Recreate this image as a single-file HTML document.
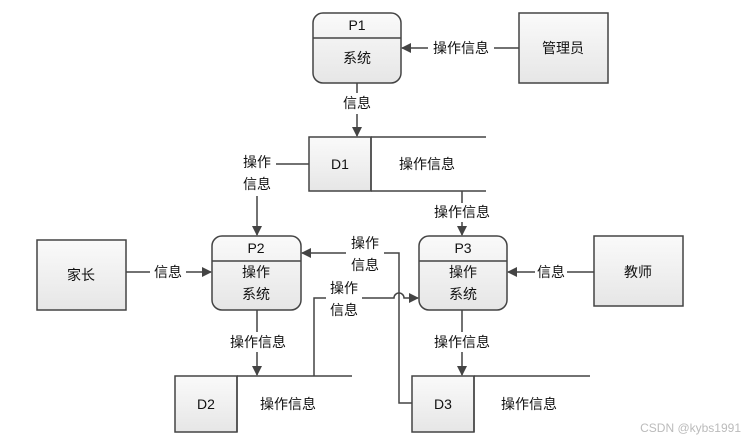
<!DOCTYPE html>
<html><head><meta charset="utf-8"><style>
body{margin:0;background:#fff;}
svg text{font-family:"Liberation Sans","Microsoft YaHei","Noto Sans CJK SC",sans-serif;font-size:14px;fill:#111;}
</style></head><body>
<svg width="756" height="440" viewBox="0 0 756 440" xmlns="http://www.w3.org/2000/svg">
<defs>
<linearGradient id="g" x1="0" y1="0" x2="0" y2="1"><stop offset="0" stop-color="#fafafa"/><stop offset="1" stop-color="#e6e6e6"/></linearGradient>
<marker id="a" markerWidth="10" markerHeight="10" refX="9" refY="5" orient="auto" markerUnits="userSpaceOnUse"><path d="M0,0 L10,5 L0,10 z" fill="#444"/></marker>
</defs>
<g stroke="#444" stroke-width="1.5" fill="url(#g)">
<rect x="313" y="13" width="88" height="70" rx="10"/><line x1="313" y1="38" x2="401" y2="38"/>
<rect x="212" y="236" width="89" height="74" rx="10"/><line x1="212" y1="261" x2="301" y2="261"/>
<rect x="419" y="236" width="88" height="74" rx="10"/><line x1="419" y1="261" x2="507" y2="261"/>
<rect x="519" y="13" width="89" height="70"/>
<rect x="37" y="240" width="89" height="70"/>
<rect x="594" y="236" width="89" height="70"/>
<rect x="309" y="137" width="62" height="54"/>
<rect x="175" y="376" width="62" height="56"/>
<rect x="412" y="376" width="62" height="56"/>
</g>
<g stroke="#444" stroke-width="1.5" fill="none">
<path d="M371 137H486M371 191H486M371 137V191"/>
<path d="M237 376H352M237 376V432"/>
<path d="M474 376H590M474 376V432"/>
</g>
<g stroke="#444" stroke-width="1.5" fill="none" marker-end="url(#a)">
<path d="M519 48H494M428 48H402"/>
<path d="M357 83V93M357 114V136"/>
<path d="M309 164H276M257 196V235"/>
<path d="M462 191V203M462 222V235"/>
<path d="M126 272H150M186 272H211"/>
<path d="M594 272H567M535 272H508"/>
<path d="M257 310V332M257 352V375"/>
<path d="M462 310V332M462 352V375"/>
<path d="M412 403H399V253H384M346 253H302"/>
<path d="M314 376V298H326M362 298H394A5 5 0 0 1 404 298H418"/>
</g>
<g text-anchor="middle">
<text x="357" y="30">P1</text><text x="357" y="63">系统</text>
<text x="256" y="253">P2</text><text x="256" y="277">操作</text><text x="256" y="299">系统</text>
<text x="463" y="253">P3</text><text x="463" y="277">操作</text><text x="463" y="299">系统</text>
<text x="563" y="53">管理员</text>
<text x="81" y="280">家长</text>
<text x="638" y="277">教师</text>
<text x="340" y="169">D1</text><text x="427" y="169">操作信息</text>
<text x="206" y="409">D2</text><text x="288" y="409">操作信息</text>
<text x="443" y="409">D3</text><text x="529" y="409">操作信息</text>
<text x="461" y="53">操作信息</text>
<text x="357" y="108">信息</text>
<text x="257" y="167">操作</text><text x="257" y="189">信息</text>
<text x="462" y="217">操作信息</text>
<text x="168" y="277">信息</text>
<text x="551" y="277">信息</text>
<text x="365" y="248">操作</text><text x="365" y="270">信息</text>
<text x="344" y="293">操作</text><text x="344" y="315">信息</text>
<text x="258" y="347">操作信息</text>
<text x="462" y="347">操作信息</text>
</g>
<text x="741" y="432" text-anchor="end" style="font-size:12px;fill:#bbb">CSDN @kybs1991</text>
</svg>
</body></html>
